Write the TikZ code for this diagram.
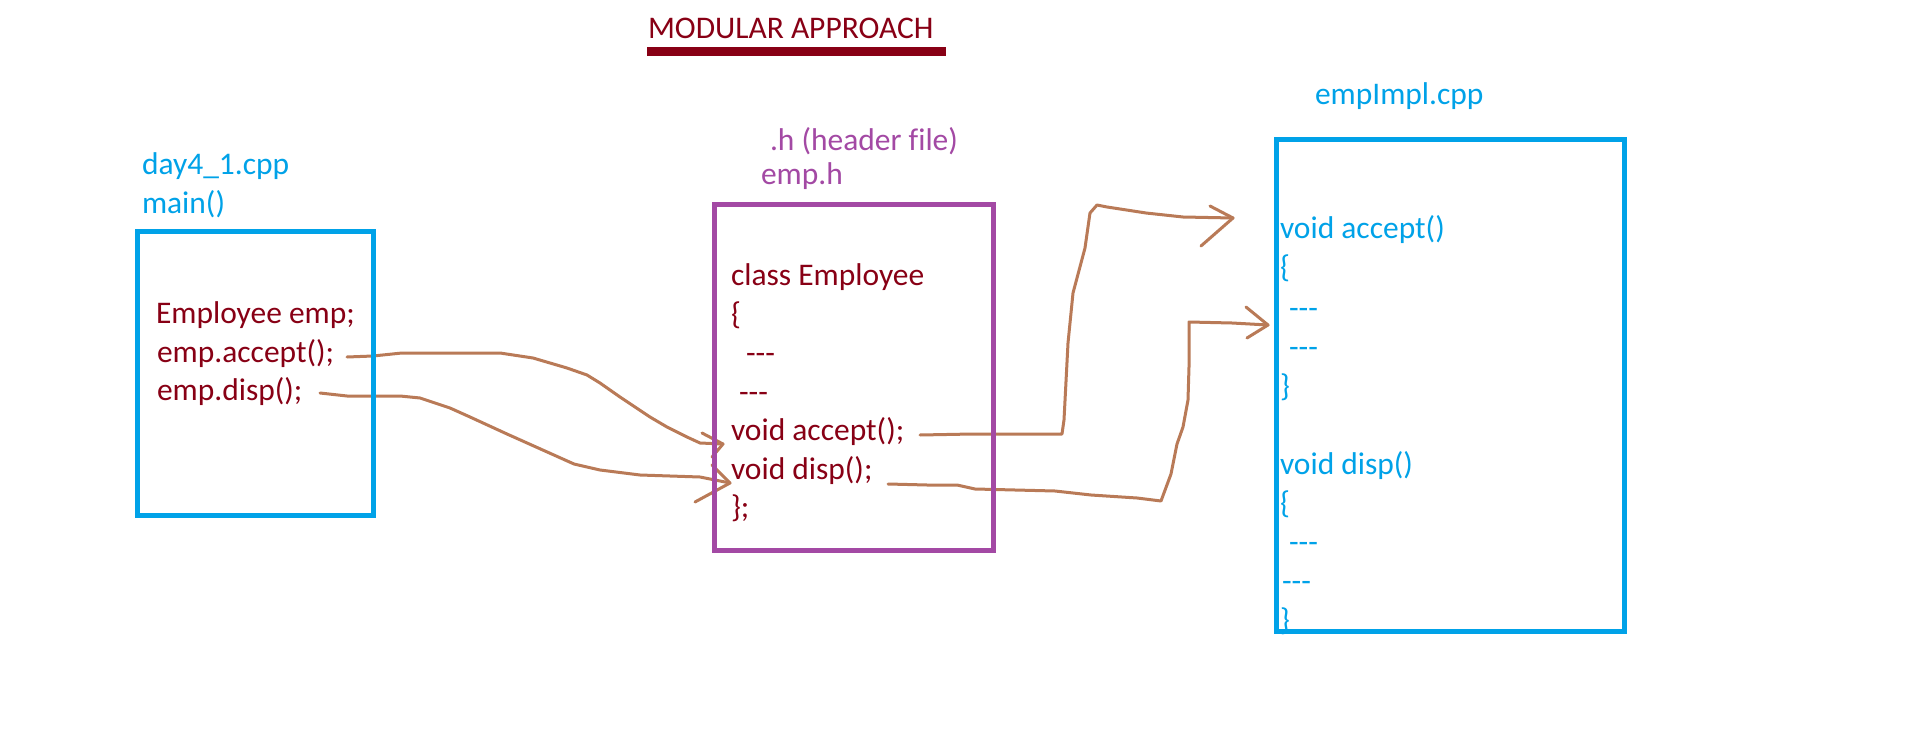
\documentclass[tikz,border=0pt]{standalone}
\usepackage{fontspec}
\setmainfont{Carlito}
\definecolor{pblue}{HTML}{00A2E8}
\definecolor{dred}{HTML}{880015}
\definecolor{ppurple}{HTML}{A349A4}
\definecolor{pbrown}{HTML}{B97A57}
\newcommand\tridash{-\kern0pt-\kern0pt-}
\begin{document}
\begin{tikzpicture}[x=1bp,y=-1bp,
  txt/.style={anchor=base west, inner sep=0pt, outer sep=0pt, font=\fontsize{31.6}{38}\selectfont},
  bluetxt/.style={txt, text=pblue},
  redtxt/.style={txt, text=dred},
  purptxt/.style={txt, text=ppurple},
  bluebox/.style={draw=pblue, line width=5bp},
  purpbox/.style={draw=ppurple, line width=5bp},
  wire/.style={draw=pbrown, line width=3bp, line join=round, line cap=round}]
\useasboundingbox[fill=white] (0,0) rectangle (1914,734);

% title
\node[redtxt] (title) at (648,39) {MODULAR APPROACH};
\fill[dred] (647,47) rectangle (946,56);

% left file
\node[bluetxt] (fileA) at (142,175) {day4\_1.cpp};
\node[bluetxt] (mainA) at (142,213) {main()};
\node[redtxt] (empDecl) at (156,323) {Employee emp;};
\node[redtxt] (mAccept) at (157,362) {emp.accept();};
\node[redtxt] (mDisp) at (157,400) {emp.disp();};

% header file
\node[purptxt] (hLabel) at (770,151) {.h (header f\kern0pt ile)};
\node[purptxt] (hName) at (761,185) {emp.h};
\node[redtxt] (hClass) at (731,285) {class Employee};
\node[redtxt] (hOpen) at (731,324) {\{};
\node[redtxt] (hDashA) at (746,363) {\tridash};
\node[redtxt] (hDashB) at (739,402) {\tridash};
\node[redtxt] (hAccept) at (731,440) {void accept();};
\node[redtxt] (hDisp) at (731,479) {void disp();};
\node[redtxt] (hClose) at (731,517) {\};};

% implementation file
\node[bluetxt] (iName) at (1315,105) {empImpl.cpp};
\node[bluetxt] (iAccept) at (1280,238) {void accept()};
\node[bluetxt] (iOpenA) at (1280,277) {\{};
\node[bluetxt] (iDashA) at (1289,318) {\tridash};
\node[bluetxt] (iDashB) at (1289,357) {\tridash};
\node[bluetxt] (iCloseA) at (1280,396) {\}};
\node[bluetxt] (iDisp) at (1280,474) {void disp()};
\node[bluetxt] (iOpenB) at (1280,513) {\{};
\node[bluetxt] (iDashC) at (1289,552) {\tridash};
\node[bluetxt] (iDashD) at (1282,591) {\tridash};
\node[bluetxt] (iCloseB) at (1280,630) {\}};

% connector end points
\coordinate (a1s) at (347,357);
\coordinate (a1t) at (723,444);
\coordinate (a2s) at (320,393);
\coordinate (a2t) at (730,483);
\coordinate (a3s) at (920,435);
\coordinate (a3t) at (1233,218);
\coordinate (a4s) at (888,484);
\coordinate (a4t) at (1268,325);

% emp.accept() -> void accept();
\draw[wire] (a1s) -- (373,356) -- (402,353) -- (500,353) -- (533,358) -- (567,368)
  -- (587,375) -- (600,383) -- (620,397) -- (650,417) -- (667,427) -- (687,437)
  -- (700,443) -- (a1t);
\draw[wire] (702,433) -- (a1t) -- (712,457);

% emp.disp() -> void disp();
\draw[wire] (a2s) -- (347,396) -- (400,396) -- (420,398) -- (450,408) -- (470,417)
  -- (507,434) -- (574,464) -- (600,470) -- (640,475) -- (700,477) -- (a2t);
\draw[wire] (712,465) -- (a2t) -- (695,502);

% void accept(); -> implementation
\draw[wire] (a3s) -- (973,434) -- (1062,434) -- (1064,420) -- (1068,343) -- (1073,293)
  -- (1085,248) -- (1090,213) -- (1097,205) -- (1107,207) -- (1146,213) -- (1183,217) -- (a3t);
\draw[wire] (1210,206) -- (a3t) -- (1201,246);

% void disp(); -> implementation
\draw[wire] (a4s) -- (927,485) -- (957,485) -- (975,489) -- (1055,491) -- (1091,495)
  -- (1137,498) -- (1161,501) -- (1171,474) -- (1177,444) -- (1183,427) -- (1188,400)
  -- (1189,367) -- (1189,322) -- (1232,323) -- (a4t);
\draw[wire] (1246,307) -- (a4t) -- (1247,338);

% boxes
\draw[bluebox] (137.5,231) rectangle (373.5,515);
\draw[purpbox] (714.5,204.5) rectangle (993.5,550.5);
\draw[bluebox] (1276.5,139.5) rectangle (1624.5,631);
\end{tikzpicture}
\end{document}
